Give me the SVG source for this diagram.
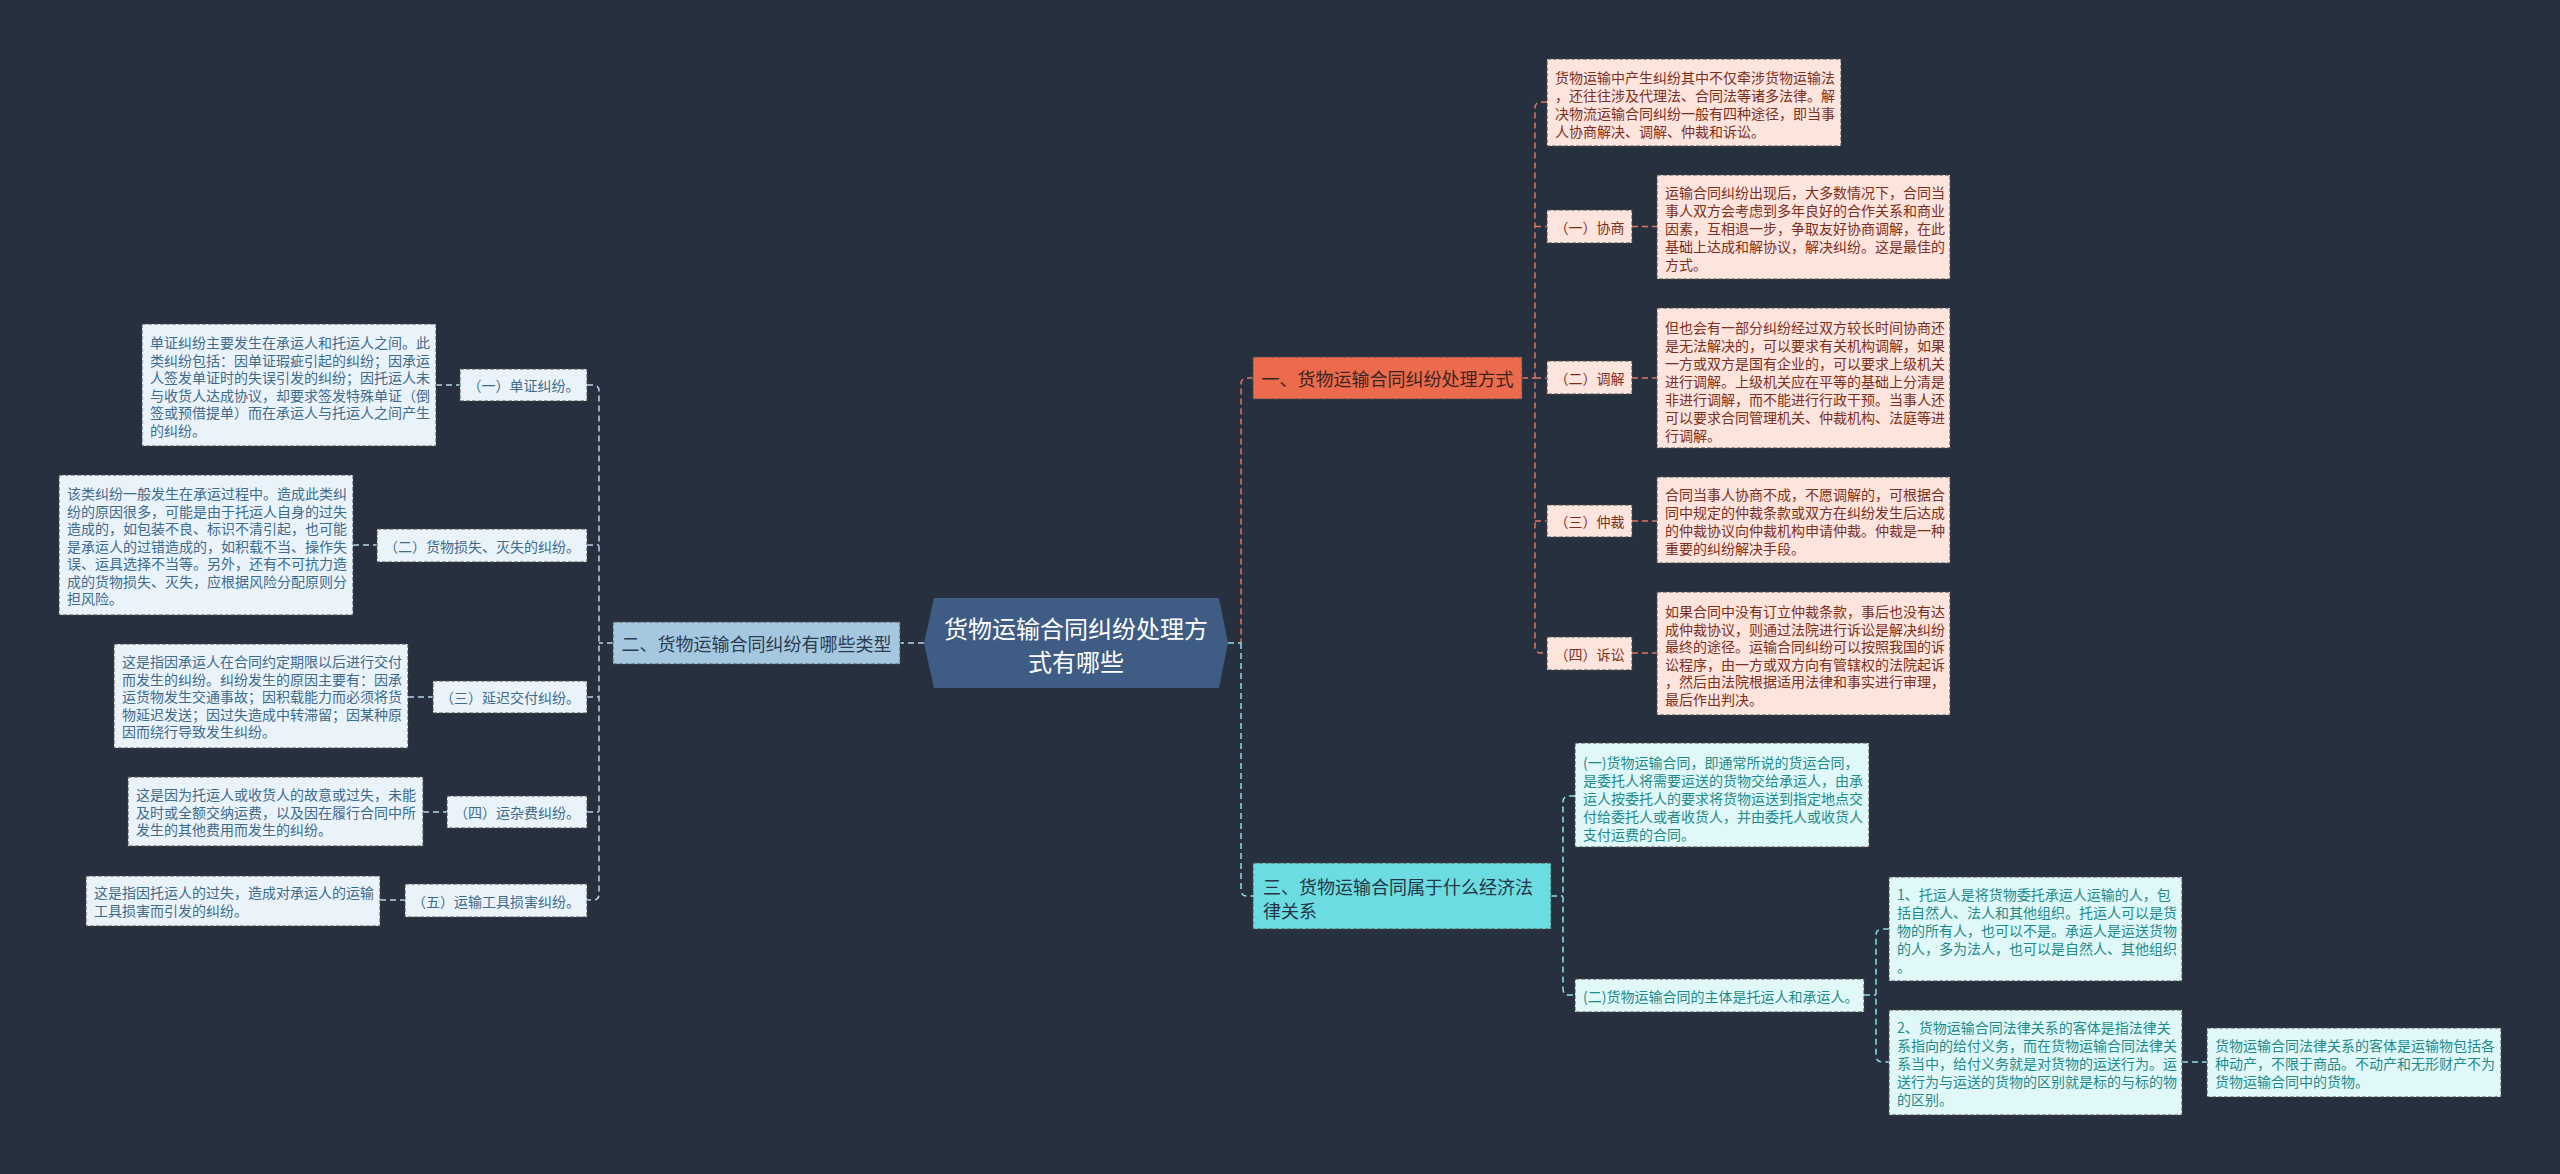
<svg xmlns="http://www.w3.org/2000/svg" width="2560" height="1174" viewBox="0 0 2560 1174">
<style>
text{font-family:"Noto Sans CJK SC","Noto Sans",sans-serif;dominant-baseline:central}
.bg{fill:#27303f}
.c{fill:none;stroke-width:1.5;stroke-dasharray:6 4}
.org{stroke:#e0775f}
.blu{stroke:#b7d4e8}
.cyn{stroke:#8fdfe6}
.box{stroke:#4a4a4a;stroke-width:1;stroke-dasharray:4 2}
.pk{fill:#fde5dd}
.pkt{fill:#7e2f20;font-size:14px}
.lb{fill:#eaf3f9}
.lbt{fill:#3d6b8e;font-size:14px}
.cy{fill:#e1f8f8}
.cyt{fill:#1f8a8a;font-size:14px}
.mid{text-anchor:middle}
.l1{font-size:18px}
</style>
<rect class="bg" x="0" y="0" width="2560" height="1174"/>
<g id="connectors">
<path class="c org" d="M1522,378 H1535"/>
<path class="c org" d="M1547,102 H1541 Q1535,102 1535,108 V647 Q1535,653 1541,653 H1547"/>
<path class="c org" d="M1535,226.5 H1547 M1535,378 H1547 M1535,521 H1547"/>
<path class="c org" d="M1632,226.5 H1657 M1632,378 H1657 M1632,521 H1657 M1632,653 H1657"/>
<path class="c org" d="M1253,378 H1247 Q1241,378 1241,384 V643"/>
<path class="c cyn" d="M1228,643 H1241"/>
<path class="c cyn" d="M1241,643 V890 Q1241,896 1247,896 H1253"/>
<path class="c blu" d="M924,643 H900"/>
<path class="c blu" d="M613,643 H599"/>
<path class="c blu" d="M587,385 H593 Q599,385 599,391 V894 Q599,900 593,900 H587"/>
<path class="c blu" d="M587,545 H599 M587,697 H599 M587,812 H599"/>
<path class="c blu" d="M436,385 H460 M353,545 H377 M408,697 H433 M423,812 H447 M380,900 H405"/>
<path class="c cyn" d="M1551,896 H1563"/>
<path class="c cyn" d="M1575,796 H1569 Q1563,796 1563,802 V989 Q1563,995 1569,995 H1575"/>
<path class="c cyn" d="M1864,995 H1876"/>
<path class="c cyn" d="M1889,929 H1883 Q1876,929 1876,935 V1056 Q1876,1062 1883,1062 H1889"/>
<path class="c cyn" d="M2182,1062 H2207"/>
</g>
<g id="root">
<polygon points="934,598 1219,598 1228,643 1219,688 934,688 924,643" fill="#3f5d84"/>
<text class="mid" x="1076" y="627" fill="#ffffff" font-size="24">货物运输合同纠纷处理方</text>
<text class="mid" x="1076" y="660" fill="#ffffff" font-size="24">式有哪些</text>
</g>
<g id="n1">
<rect class="box" x="1253" y="357" width="269" height="42" fill="#ec6b4c"/>
<text class="mid l1" x="1387.5" y="378" fill="#3b2420">一、货物运输合同纠纷处理方式</text>
</g>
<g id="n1-intro">
<rect class="box pk" x="1547" y="59" width="294" height="87"/>
<text class="pkt"><tspan x="1555" y="77">货物运输中产生纠纷其中不仅牵涉货物运输法</tspan><tspan x="1555" y="95">，还往往涉及代理法、合同法等诸多法律。解</tspan><tspan x="1555" y="113">决物流运输合同纠纷一般有四种途径，即当事</tspan><tspan x="1555" y="131">人协商解决、调解、仲裁和诉讼。</tspan></text>
</g>
<g id="n1-1">
<rect class="box pk" x="1547" y="210" width="85" height="33"/>
<text class="pkt mid" x="1589.5" y="226.5">（一）协商</text>
</g>
<g id="n1-1d">
<rect class="box pk" x="1657" y="175" width="293" height="104"/>
<text class="pkt"><tspan x="1665" y="192">运输合同纠纷出现后，大多数情况下，合同当</tspan><tspan x="1665" y="210">事人双方会考虑到多年良好的合作关系和商业</tspan><tspan x="1665" y="228">因素，互相退一步，争取友好协商调解，在此</tspan><tspan x="1665" y="246">基础上达成和解协议，解决纠纷。这是最佳的</tspan><tspan x="1665" y="264">方式。</tspan></text>
</g>
<g id="n1-2">
<rect class="box pk" x="1547" y="361" width="85" height="33"/>
<text class="pkt mid" x="1589.5" y="377.5">（二）调解</text>
</g>
<g id="n1-2d">
<rect class="box pk" x="1657" y="308" width="293" height="140"/>
<text class="pkt"><tspan x="1665" y="327">但也会有一部分纠纷经过双方较长时间协商还</tspan><tspan x="1665" y="345">是无法解决的，可以要求有关机构调解，如果</tspan><tspan x="1665" y="363">一方或双方是国有企业的，可以要求上级机关</tspan><tspan x="1665" y="381">进行调解。上级机关应在平等的基础上分清是</tspan><tspan x="1665" y="399">非进行调解，而不能进行行政干预。当事人还</tspan><tspan x="1665" y="417">可以要求合同管理机关、仲裁机构、法庭等进</tspan><tspan x="1665" y="435">行调解。</tspan></text>
</g>
<g id="n1-3">
<rect class="box pk" x="1547" y="505" width="85" height="32"/>
<text class="pkt mid" x="1589.5" y="521">（三）仲裁</text>
</g>
<g id="n1-3d">
<rect class="box pk" x="1657" y="477" width="293" height="86"/>
<text class="pkt"><tspan x="1665" y="494">合同当事人协商不成，不愿调解的，可根据合</tspan><tspan x="1665" y="512">同中规定的仲裁条款或双方在纠纷发生后达成</tspan><tspan x="1665" y="530">的仲裁协议向仲裁机构申请仲裁。仲裁是一种</tspan><tspan x="1665" y="548">重要的纠纷解决手段。</tspan></text>
</g>
<g id="n1-4">
<rect class="box pk" x="1547" y="637" width="85" height="33"/>
<text class="pkt mid" x="1589.5" y="653.5">（四）诉讼</text>
</g>
<g id="n1-4d">
<rect class="box pk" x="1657" y="592" width="293" height="123"/>
<text class="pkt"><tspan x="1665" y="611">如果合同中没有订立仲裁条款，事后也没有达</tspan><tspan x="1665" y="628.5">成仲裁协议，则通过法院进行诉讼是解决纠纷</tspan><tspan x="1665" y="646">最终的途径。运输合同纠纷可以按照我国的诉</tspan><tspan x="1665" y="663.5">讼程序，由一方或双方向有管辖权的法院起诉</tspan><tspan x="1665" y="681">，然后由法院根据适用法律和事实进行审理，</tspan><tspan x="1665" y="698.5">最后作出判决。</tspan></text>
</g>
<g id="n2">
<rect class="box" x="613" y="622" width="287" height="42" fill="#a5c8e0"/>
<text class="mid l1" x="756.5" y="643" fill="#2d3d50">二、货物运输合同纠纷有哪些类型</text>
</g>
<g id="n2-1">
<rect class="box lb" x="460" y="369" width="127" height="32"/>
<text class="lbt mid" x="523.5" y="385">（一）单证纠纷。</text>
</g>
<g id="n2-1d">
<rect class="box lb" x="142" y="324" width="294" height="122"/>
<text class="lbt"><tspan x="150" y="342">单证纠纷主要发生在承运人和托运人之间。此</tspan><tspan x="150" y="359.5">类纠纷包括：因单证瑕疵引起的纠纷；因承运</tspan><tspan x="150" y="377">人签发单证时的失误引发的纠纷；因托运人未</tspan><tspan x="150" y="394.5">与收货人达成协议，却要求签发特殊单证（倒</tspan><tspan x="150" y="412">签或预借提单）而在承运人与托运人之间产生</tspan><tspan x="150" y="429.5">的纠纷。</tspan></text>
</g>
<g id="n2-2">
<rect class="box lb" x="377" y="529" width="210" height="33"/>
<text class="lbt mid" x="482" y="545.5">（二）货物损失、灭失的纠纷。</text>
</g>
<g id="n2-2d">
<rect class="box lb" x="59" y="475" width="294" height="140"/>
<text class="lbt"><tspan x="67" y="493">该类纠纷一般发生在承运过程中。造成此类纠</tspan><tspan x="67" y="510.5">纷的原因很多，可能是由于托运人自身的过失</tspan><tspan x="67" y="528">造成的，如包装不良、标识不清引起，也可能</tspan><tspan x="67" y="545.5">是承运人的过错造成的，如积载不当、操作失</tspan><tspan x="67" y="563">误、运具选择不当等。另外，还有不可抗力造</tspan><tspan x="67" y="580.5">成的货物损失、灭失，应根据风险分配原则分</tspan><tspan x="67" y="598">担风险。</tspan></text>
</g>
<g id="n2-3">
<rect class="box lb" x="433" y="681" width="154" height="32"/>
<text class="lbt mid" x="510" y="697">（三）延迟交付纠纷。</text>
</g>
<g id="n2-3d">
<rect class="box lb" x="114" y="644" width="294" height="104"/>
<text class="lbt"><tspan x="122" y="661">这是指因承运人在合同约定期限以后进行交付</tspan><tspan x="122" y="678.5">而发生的纠纷。纠纷发生的原因主要有：因承</tspan><tspan x="122" y="696">运货物发生交通事故；因积载能力而必须将货</tspan><tspan x="122" y="713.5">物延迟发送；因过失造成中转滞留；因某种原</tspan><tspan x="122" y="731">因而绕行导致发生纠纷。</tspan></text>
</g>
<g id="n2-4">
<rect class="box lb" x="447" y="796" width="140" height="32"/>
<text class="lbt mid" x="517" y="812">（四）运杂费纠纷。</text>
</g>
<g id="n2-4d">
<rect class="box lb" x="128" y="777" width="295" height="69"/>
<text class="lbt"><tspan x="136" y="794">这是因为托运人或收货人的故意或过失，未能</tspan><tspan x="136" y="811.5">及时或全额交纳运费，以及因在履行合同中所</tspan><tspan x="136" y="829">发生的其他费用而发生的纠纷。</tspan></text>
</g>
<g id="n2-5">
<rect class="box lb" x="405" y="884" width="182" height="33"/>
<text class="lbt mid" x="496" y="900.5">（五）运输工具损害纠纷。</text>
</g>
<g id="n2-5d">
<rect class="box lb" x="86" y="876" width="294" height="50"/>
<text class="lbt"><tspan x="94" y="892">这是指因托运人的过失，造成对承运人的运输</tspan><tspan x="94" y="909.5">工具损害而引发的纠纷。</tspan></text>
</g>
<g id="n3">
<rect class="box" x="1253" y="863" width="298" height="66" fill="#6adce2"/>
<text class="l1" fill="#263545"><tspan x="1263" y="886">三、货物运输合同属于什么经济法</tspan><tspan x="1263" y="910">律关系</tspan></text>
</g>
<g id="n3-1">
<rect class="box cy" x="1575" y="743" width="294" height="104"/>
<text class="cyt"><tspan x="1583" y="762">(一)货物运输合同，即通常所说的货运合同，</tspan><tspan x="1583" y="780">是委托人将需要运送的货物交给承运人，由承</tspan><tspan x="1583" y="798">运人按委托人的要求将货物运送到指定地点交</tspan><tspan x="1583" y="816">付给委托人或者收货人，并由委托人或收货人</tspan><tspan x="1583" y="834">支付运费的合同。</tspan></text>
</g>
<g id="n3-2">
<rect class="box cy" x="1575" y="979" width="289" height="33"/>
<text class="cyt" x="1583" y="995.5">(二)货物运输合同的主体是托运人和承运人。</text>
</g>
<g id="n3-2a">
<rect class="box cy" x="1889" y="877" width="293" height="104"/>
<text class="cyt"><tspan x="1897" y="894">1、托运人是将货物委托承运人运输的人，包</tspan><tspan x="1897" y="912">括自然人、法人和其他组织。托运人可以是货</tspan><tspan x="1897" y="930">物的所有人，也可以不是。承运人是运送货物</tspan><tspan x="1897" y="948">的人，多为法人，也可以是自然人、其他组织</tspan><tspan x="1897" y="966">。</tspan></text>
</g>
<g id="n3-2b">
<rect class="box cy" x="1889" y="1010" width="293" height="105"/>
<text class="cyt"><tspan x="1897" y="1027">2、货物运输合同法律关系的客体是指法律关</tspan><tspan x="1897" y="1045">系指向的给付义务，而在货物运输合同法律关</tspan><tspan x="1897" y="1063">系当中，给付义务就是对货物的运送行为。运</tspan><tspan x="1897" y="1081">送行为与运送的货物的区别就是标的与标的物</tspan><tspan x="1897" y="1099">的区别。</tspan></text>
</g>
<g id="n3-2b1">
<rect class="box cy" x="2207" y="1028" width="294" height="69"/>
<text class="cyt"><tspan x="2215" y="1045">货物运输合同法律关系的客体是运输物包括各</tspan><tspan x="2215" y="1063">种动产，不限于商品。不动产和无形财产不为</tspan><tspan x="2215" y="1081">货物运输合同中的货物。</tspan></text>
</g>
</svg>
